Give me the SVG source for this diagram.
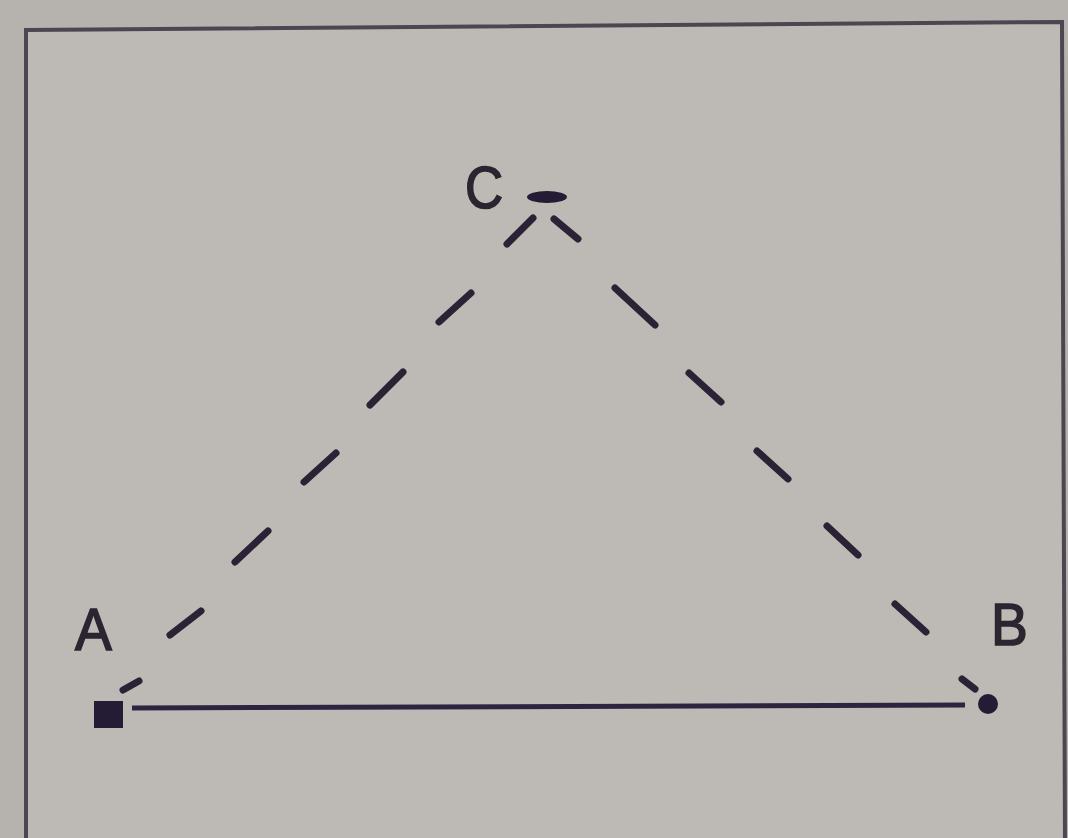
<svg xmlns="http://www.w3.org/2000/svg" width="1068" height="838" viewBox="0 0 1068 838">
<style>
.lbl{font-family:"Liberation Sans",Arial,sans-serif;font-size:60px;fill:#2a2530;stroke:#2a2530;stroke-width:1.6px}
.dash{stroke:#2b2236;stroke-width:7;stroke-linecap:round;fill:none}
.solid{stroke:#2e2440;stroke-width:5;fill:none}
.mark{fill:#241c34}
</style>
<rect x="0" y="0" width="1068" height="838" fill="#b6b3ae"/>
<polygon points="26,30 1062,22 1065,845 26,845" fill="#bdbab5" stroke="#4a4750" stroke-width="4"/>
<g id="connectors">
<line class="solid" x1="132" y1="708" x2="965" y2="705"/>
<line class="dash" x1="123" y1="690" x2="139" y2="681"/>
<line class="dash" x1="170" y1="635" x2="201" y2="611"/>
<line class="dash" x1="235" y1="562" x2="268" y2="531"/>
<line class="dash" x1="304" y1="482" x2="336" y2="453"/>
<line class="dash" x1="370" y1="405" x2="403" y2="372"/>
<line class="dash" x1="439" y1="322" x2="471" y2="293"/>
<line class="dash" x1="507" y1="244" x2="533" y2="218"/>
<line class="dash" x1="554" y1="219" x2="578" y2="239"/>
<line class="dash" x1="615" y1="288" x2="655" y2="325"/>
<line class="dash" x1="689" y1="373" x2="721" y2="402"/>
<line class="dash" x1="757" y1="451" x2="788" y2="479"/>
<line class="dash" x1="827" y1="526" x2="858" y2="555"/>
<line class="dash" x1="895" y1="604" x2="926" y2="632"/>
<line class="dash" x1="962" y1="679" x2="975" y2="689"/>
</g>
<g id="node-A">
<rect class="mark" x="94" y="701" width="29" height="27"/>
<text class="lbl" x="75" y="650" transform="translate(75 0) scale(0.92 1) translate(-75 0)">A</text>
</g>
<g id="node-B">
<circle class="mark" cx="988" cy="704" r="10"/>
<text class="lbl" x="991" y="645" transform="translate(991 0) scale(0.92 1) translate(-991 0)">B</text>
</g>
<g id="node-C">
<ellipse class="mark" cx="547" cy="197" rx="20" ry="6"/>
<text class="lbl" x="465" y="208" transform="translate(465 0) scale(0.88 1) translate(-465 0)">C</text>
</g>
</svg>
